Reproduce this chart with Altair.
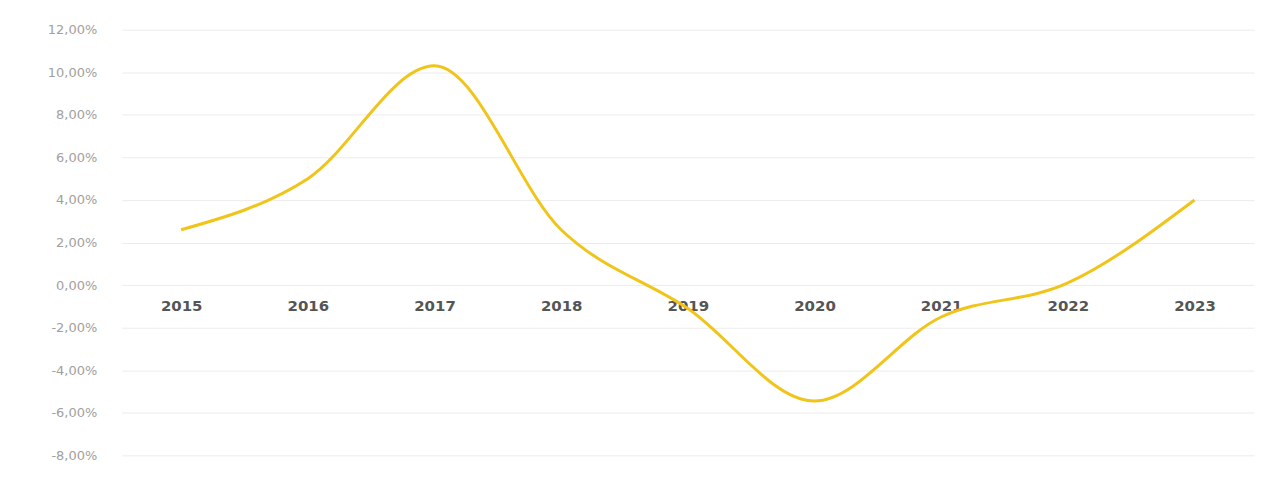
import altair as alt
import pandas as pd

years = ["2015", "2016", "2017", "2018", "2019", "2020", "2021", "2022", "2023"]
values = [2.6, 5.0, 10.3, 2.6, -1.1, -5.45, -1.5, 0.1, 4.0]
y_ticks = [-8, -6, -4, -2, 0, 2, 4, 6, 8, 10, 12]

df = pd.DataFrame({"year": years, "value": values})

label_expr = "(datum.value < 0 ? '-' : '') + replace(format(abs(datum.value), '.2f'), '.', ',') + '%'"

chart = (
    alt.Chart(df)
    .mark_line(color="#F0C419", strokeWidth=3, interpolate="monotone")
    .encode(
        x=alt.X(
            "year:N",
            sort=years,
            scale=alt.Scale(type="point", padding=0.47),
            axis=alt.Axis(
                title=None,
                orient="bottom",
                offset=-171,
                domain=False,
                ticks=False,
                grid=False,
                labelAngle=0,
                labelFont="DejaVu Sans",
                labelFontWeight="bold",
                labelFontSize=15,
                labelColor="#555555",
                labelPadding=14,
            ),
        ),
        y=alt.Y(
            "value:Q",
            scale=alt.Scale(domain=[-8, 12], nice=False, zero=False),
            axis=alt.Axis(
                title=None,
                values=y_ticks,
                labelExpr=label_expr,
                domain=False,
                ticks=False,
                gridColor="#ececec",
                gridWidth=1,
                labelFont="DejaVu Sans",
                labelFontSize=13,
                labelColor="#a0a0a0",
                labelPadding=25,
            ),
        ),
    )
    .properties(
        width=1136,
        height=427,
        autosize=alt.AutoSizeParams(type="none"),
        padding={"left": 114, "top": 21, "right": 5, "bottom": 20},
    )
    .configure_view(stroke=None)
)

chart.save("out.html", embed_options={"renderer": "svg", "actions": False})
